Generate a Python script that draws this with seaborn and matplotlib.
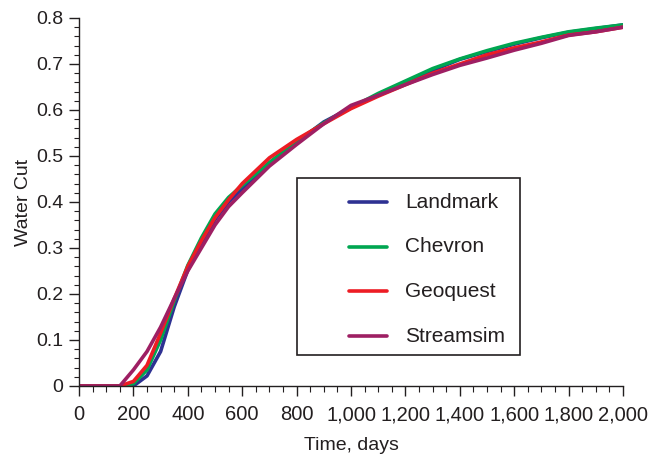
import numpy as np
import pandas as pd
import seaborn as sns
import matplotlib
matplotlib.use("Agg")
import matplotlib.pyplot as plt
from matplotlib.ticker import MultipleLocator, FuncFormatter
from matplotlib.patches import Rectangle

# Water cut vs. time for four simulators
time_days = [0, 50, 100, 150, 200, 250, 300, 350, 400, 450, 500, 550, 600,
             700, 800, 900, 1000, 1100, 1200, 1300, 1400, 1500, 1600, 1700,
             1800, 1900, 2000]

landmark = [0, 0, 0, 0, 0, 0.022, 0.075, 0.172, 0.252, 0.31, 0.362, 0.40, 0.428,
            0.482, 0.53, 0.574, 0.605, 0.632, 0.66, 0.686, 0.71, 0.727, 0.743,
            0.757, 0.769, 0.777, 0.785]
chevron = [0, 0, 0, 0, 0.005, 0.035, 0.10, 0.185, 0.262, 0.322, 0.374, 0.41, 0.436,
           0.486, 0.532, 0.572, 0.605, 0.636, 0.663, 0.69, 0.711, 0.729, 0.745,
           0.758, 0.77, 0.778, 0.785]
geoquest = [0, 0, 0, 0, 0.01, 0.045, 0.115, 0.19, 0.26, 0.316, 0.366, 0.405, 0.44,
            0.496, 0.536, 0.57, 0.603, 0.63, 0.655, 0.68, 0.70, 0.72, 0.735,
            0.748, 0.763, 0.77, 0.78]
streamsim = [0, 0, 0, 0, 0.035, 0.075, 0.128, 0.19, 0.25, 0.30, 0.35, 0.39, 0.42,
             0.478, 0.525, 0.57, 0.61, 0.632, 0.655, 0.677, 0.697, 0.713, 0.73,
             0.745, 0.762, 0.77, 0.78]

series_names = ["Landmark", "Chevron", "Geoquest", "Streamsim"]
series_values = [landmark, chevron, geoquest, streamsim]
series_colors = ["#2E3192", "#00A651", "#ED1C24", "#9E1F63"]

df = pd.concat(
    [pd.DataFrame({"Time": time_days, "WaterCut": v, "Model": n})
     for n, v in zip(series_names, series_values)],
    ignore_index=True,
)

sns.set_style("ticks")
plt.rcParams["font.family"] = ["Liberation Sans", "DejaVu Sans"]
plt.rcParams["text.color"] = "#231F20"
plt.rcParams["axes.labelcolor"] = "#231F20"

fig = plt.figure(figsize=(6.52, 4.54), dpi=100)
ax = fig.add_axes([79 / 652, 1 - 386 / 454, 544 / 652, 368 / 454])

sns.lineplot(data=df, x="Time", y="WaterCut", hue="Model",
             hue_order=series_names, palette=series_colors,
             linewidth=2.6, ax=ax, legend=False, estimator=None, sort=False)

ax.set_xlim(0, 2000)
ax.set_ylim(0, 0.8)
ax.xaxis.set_major_locator(MultipleLocator(200))
ax.xaxis.set_minor_locator(MultipleLocator(50))
ax.yaxis.set_major_locator(MultipleLocator(0.1))
ax.yaxis.set_minor_locator(MultipleLocator(0.02))
ax.xaxis.set_major_formatter(FuncFormatter(lambda v, p: f"{int(v):,}"))
ax.yaxis.set_major_formatter(FuncFormatter(lambda v, p: "0" if abs(v) < 1e-9 else f"{v:.1f}"))

for s in ["top", "right"]:
    ax.spines[s].set_visible(False)
for s in ["left", "bottom"]:
    ax.spines[s].set_color("#231F20")
    ax.spines[s].set_linewidth(1.0)

ax.tick_params(axis="y", which="major", length=7.2, width=1.0, labelsize=14,
               color="#231F20", labelcolor="#231F20", pad=4.3)
ax.tick_params(axis="y", which="minor", length=3.6, width=0.8, color="#231F20")
ax.tick_params(axis="x", which="major", length=7.2, width=1.0, labelsize=14.5,
               color="#231F20", labelcolor="#231F20", pad=6.8)
ax.tick_params(axis="x", which="minor", length=4.3, width=0.8, color="#231F20")

ax.set_xlabel("Time, days", fontsize=14, labelpad=9)
ax.set_ylabel("Water Cut", fontsize=14, labelpad=3)

# Legend: framed box with entries inset from the left edge
box = Rectangle((297 / 652, 1 - 355 / 454), 223 / 652, 177 / 454,
                transform=fig.transFigure, fill=True, facecolor="white",
                edgecolor="#231F20", linewidth=1.2, zorder=5)
fig.patches.append(box)
for i, (n, c) in enumerate(zip(series_names, series_colors)):
    yc = 1 - (202 + 44.7 * i) / 454
    fig.lines.append(plt.Line2D([349 / 652, 387 / 652], [yc, yc],
                                transform=fig.transFigure, color=c,
                                linewidth=2.6, zorder=6))
    fig.text(405 / 652, yc, n, fontsize=15, va="center", ha="left",
             color="#231F20", zorder=6)

fig.savefig("out.png", dpi=100)
